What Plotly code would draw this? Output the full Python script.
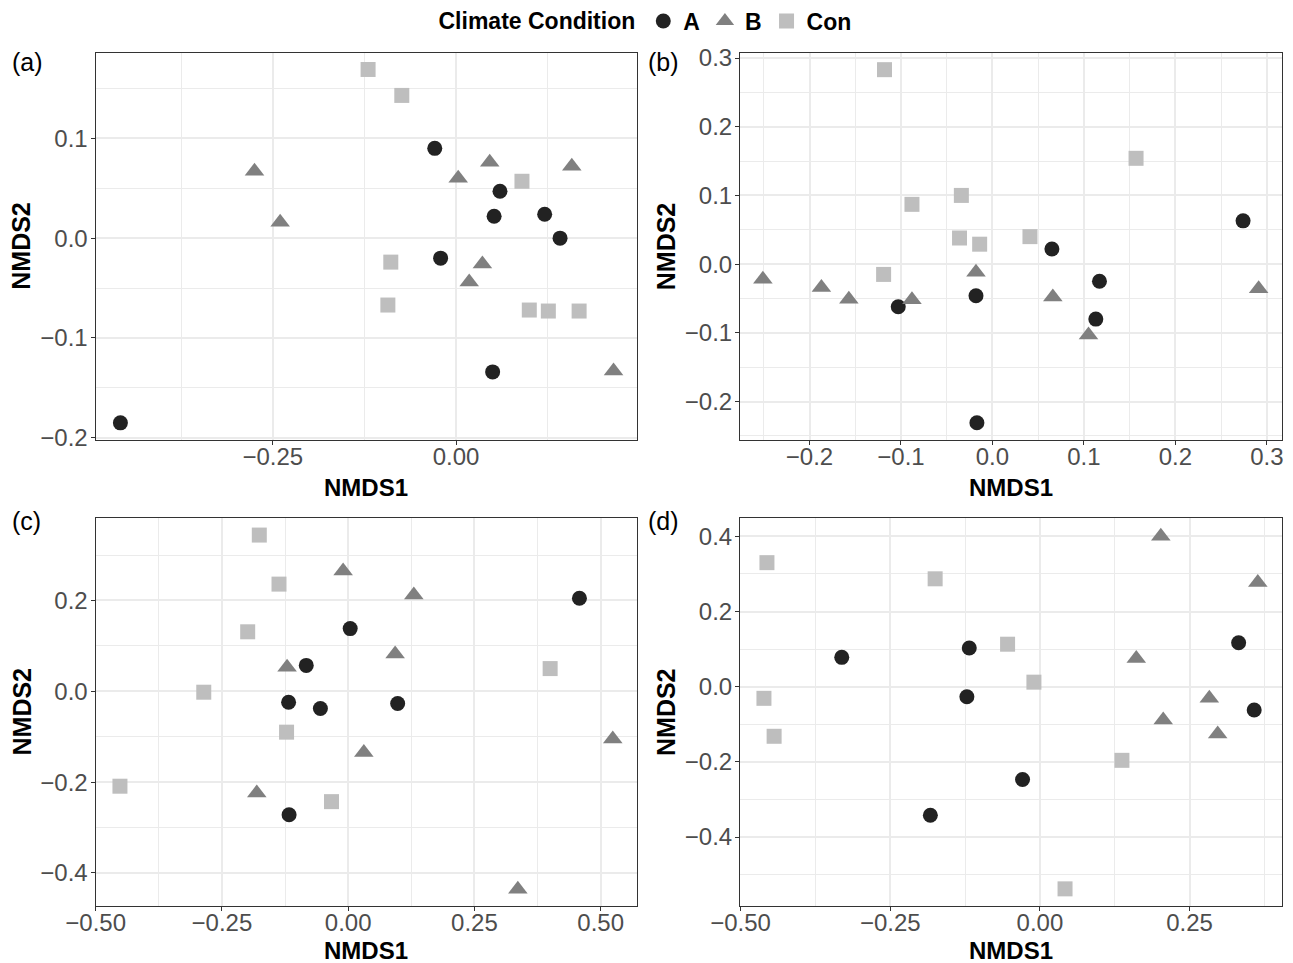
import plotly.graph_objects as go

# ---------------- data ----------------
groups = ["A", "B", "Con"]

# panel (a)
a_A_x = [-0.029, 0.060, 0.052, 0.121, 0.142, -0.021, 0.050, -0.458]
a_A_y = [0.090, 0.047, 0.022, 0.024, 0.000, -0.020, -0.134, -0.185]
a_B_x = [-0.275, -0.240, 0.046, 0.003, 0.158, 0.036, 0.018, 0.215]
a_B_y = [0.067, 0.016, 0.076, 0.060, 0.072, -0.026, -0.044, -0.133]
a_C_x = [-0.120, -0.074, 0.090, -0.089, -0.093, 0.100, 0.126, 0.168]
a_C_y = [0.169, 0.143, 0.057, -0.024, -0.067, -0.072, -0.073, -0.073]

# panel (b)
b_A_x = [0.274, 0.065, 0.117, 0.113, -0.018, -0.103, -0.017]
b_A_y = [0.063, 0.022, -0.025, -0.080, -0.046, -0.062, -0.231]
b_B_x = [-0.251, -0.187, -0.157, -0.088, -0.018, 0.066, 0.105, 0.291]
b_B_y = [-0.022, -0.034, -0.051, -0.052, -0.012, -0.048, -0.103, -0.036]
b_C_x = [-0.118, 0.157, -0.034, -0.088, -0.036, -0.014, 0.041, -0.119]
b_C_y = [0.283, 0.154, 0.100, 0.087, 0.038, 0.029, 0.040, -0.015]

# panel (c)
c_A_x = [0.458, 0.004, -0.083, -0.118, -0.055, 0.098, -0.117]
c_A_y = [0.205, 0.138, 0.057, -0.024, -0.038, -0.027, -0.272]
c_B_x = [-0.010, 0.130, -0.121, 0.093, 0.031, -0.181, 0.524, 0.336]
c_B_y = [0.265, 0.212, 0.053, 0.082, -0.135, -0.224, -0.105, -0.436]
c_C_x = [-0.176, -0.137, -0.199, -0.286, -0.122, 0.400, -0.452, -0.033]
c_C_y = [0.344, 0.236, 0.131, -0.002, -0.090, 0.050, -0.209, -0.243]

# panel (d)
d_A_x = [-0.331, -0.118, -0.122, -0.029, -0.183, 0.332, 0.358]
d_A_y = [0.078, 0.103, -0.027, -0.247, -0.342, 0.117, -0.062]
d_B_x = [0.202, 0.364, 0.161, 0.283, 0.206, 0.297]
d_B_y = [0.400, 0.277, 0.075, -0.031, -0.089, -0.126]
d_C_x = [-0.456, -0.175, -0.054, -0.010, -0.461, -0.444, 0.137, 0.042]
d_C_y = [0.330, 0.287, 0.113, 0.012, -0.031, -0.132, -0.196, -0.538]

# axis ticks
a_xticks = [-0.25, 0.0]
a_yticks = [-0.2, -0.1, 0.0, 0.1]
b_xticks = [-0.2, -0.1, 0.0, 0.1, 0.2, 0.3]
b_yticks = [-0.2, -0.1, 0.0, 0.1, 0.2, 0.3]
c_xticks = [-0.5, -0.25, 0.0, 0.25, 0.5]
c_yticks = [-0.4, -0.2, 0.0, 0.2]
d_xticks = [-0.5, -0.25, 0.0, 0.25]
d_yticks = [-0.4, -0.2, 0.0, 0.2, 0.4]

panel_labels = ["(a)", "(b)", "(c)", "(d)"]

# ---------------- styling ----------------
FONT = "Liberation Sans, Arial, Helvetica, sans-serif"
colors = {"A": "#222222", "B": "#808080", "Con": "#bebebe"}
symbols = {"A": "circle", "B": "triangle-up", "Con": "square"}
sizes = {"A": 15, "B": 17, "Con": 15}

# the page body has an 8px margin; draw a figure that fills the rest
OFF = 8
W, H = 1293 - OFF, 963 - OFF
def px_x(p):
    return (p - OFF) / W
def px_y(p):
    return 1 - (p - OFF) / H

col_dom = [[px_x(95.5), px_x(637.0)], [px_x(740.0), px_x(1281.5)]]
row_dom = [[px_y(440.0), px_y(52.5)], [px_y(906.0), px_y(518.0)]]

panels = [
    dict(A=(a_A_x, a_A_y), B=(a_B_x, a_B_y), Con=(a_C_x, a_C_y),
         xr=[-0.492, 0.247], yr=[-0.2022, 0.186], xt=a_xticks, yt=a_yticks,
         xf=".2f", yf=".1f", xstep=0.125, ystep=0.05, col=0, row=0),
    dict(A=(b_A_x, b_A_y), B=(b_B_x, b_B_y), Con=(b_C_x, b_C_y),
         xr=[-0.276, 0.316], yr=[-0.256, 0.308], xt=b_xticks, yt=b_yticks,
         xf=".1f", yf=".1f", xstep=0.05, ystep=0.05, col=1, row=0),
    dict(A=(c_A_x, c_A_y), B=(c_B_x, c_B_y), Con=(c_C_x, c_C_y),
         xr=[-0.5004, 0.572], yr=[-0.4728, 0.3816], xt=c_xticks, yt=c_yticks,
         xf=".2f", yf=".1f", xstep=0.125, ystep=0.1, col=0, row=1),
    dict(A=(d_A_x, d_A_y), B=(d_B_x, d_B_y), Con=(d_C_x, d_C_y),
         xr=[-0.501, 0.4036], yr=[-0.5836, 0.4488], xt=d_xticks, yt=d_yticks,
         xf=".2f", yf=".1f", xstep=0.125, ystep=0.1, col=1, row=1),
]

fig = go.Figure()
layout = {}
annotations = []

def minor_vals(rng, step):
    vals = []
    k = int(round(-2 / step))
    while k * step <= 2:
        v = round(k * step, 6)
        if rng[0] < v < rng[1]:
            vals.append(v)
        k += 1
    return vals

for i, p in enumerate(panels):
    n = i + 1
    xa = "x" if n == 1 else f"x{n}"
    ya = "y" if n == 1 else f"y{n}"
    for g in groups:
        xs, ys = p[g]
        fig.add_trace(go.Scatter(
            x=xs, y=ys, mode="markers", name=g, legendgroup=g,
            showlegend=(i == 0), xaxis=xa, yaxis=ya,
            marker=dict(symbol=symbols[g], size=sizes[g], color=colors[g],
                        line=dict(width=0)),
            cliponaxis=False,
        ))
    xminor = [v for v in minor_vals(p["xr"], p["xstep"]) if all(abs(v - t) > 1e-9 for t in p["xt"])]
    yminor = [v for v in minor_vals(p["yr"], p["ystep"]) if all(abs(v - t) > 1e-9 for t in p["yt"])]
    common = dict(
        showline=True, mirror=True, linecolor="#333333", linewidth=1,
        ticks="outside", ticklen=4, tickwidth=1, tickcolor="#333333",
        tickfont=dict(family=FONT, size=24, color="#4d4d4d"),
        showgrid=True, gridcolor="#ebebeb", gridwidth=1.6,
        zeroline=False, fixedrange=True, automargin=False,
    )
    layout["xaxis" if n == 1 else f"xaxis{n}"] = dict(
        common, domain=col_dom[p["col"]], range=p["xr"], anchor=ya,
        tickmode="array", tickvals=p["xt"], tickformat=p["xf"],
        ticklabelstandoff=-9,
        minor=dict(tickmode="array", tickvals=xminor, showgrid=True,
                   gridcolor="#ebebeb", gridwidth=0.8, ticks=""),
    )
    layout["yaxis" if n == 1 else f"yaxis{n}"] = dict(
        common, domain=row_dom[p["row"]], range=p["yr"], anchor=xa,
        tickmode="array", tickvals=p["yt"], tickformat=p["yf"],
        ticklabelstandoff=-2,
        minor=dict(tickmode="array", tickvals=yminor, showgrid=True,
                   gridcolor="#ebebeb", gridwidth=0.8, ticks=""),
    )
    # axis titles
    cx = (col_dom[p["col"]][0] + col_dom[p["col"]][1]) / 2
    cy = (row_dom[p["row"]][0] + row_dom[p["row"]][1]) / 2
    annotations.append(dict(
        text="<b>NMDS1</b>", xref="paper", yref="paper", x=cx,
        y=px_y(487 if p["row"] == 0 else 950), xanchor="center", yanchor="middle",
        showarrow=False, font=dict(family=FONT, size=24, color="#000000")))
    annotations.append(dict(
        text="<b>NMDS2</b>", xref="paper", yref="paper",
        x=px_x(21.5 if p["col"] == 0 else 666), y=cy, textangle=-90,
        xanchor="center", yanchor="middle",
        showarrow=False, font=dict(family=FONT, size=25, color="#000000")))
    annotations.append(dict(
        text=panel_labels[i], xref="paper", yref="paper",
        x=px_x(10 if p["col"] == 0 else 646), y=px_y(62 if p["row"] == 0 else 521),
        xanchor="left", yanchor="middle", showarrow=False,
        font=dict(family=FONT, size=25, color="#000000")))

fig.update_layout(
    width=W, height=H, autosize=False,
    margin=dict(l=0, r=0, t=0, b=0, autoexpand=False),
    paper_bgcolor="white", plot_bgcolor="white",
    font=dict(family=FONT, color="#000000"),
    showlegend=True,
    legend=dict(
        orientation="h", x=px_x(646.5), xanchor="center", y=px_y(21), yanchor="middle",
        title=dict(text="<b>Climate Condition</b>", font=dict(family=FONT, size=23, color="#000000"), side="left"),
        font=dict(family=FONT, size=23, color="#000000", weight="bold"),
        bgcolor="rgba(0,0,0,0)", itemsizing="trace", entrywidth=0,
    ),
    annotations=annotations,
    **layout,
)

fig.write_html("out.html")
